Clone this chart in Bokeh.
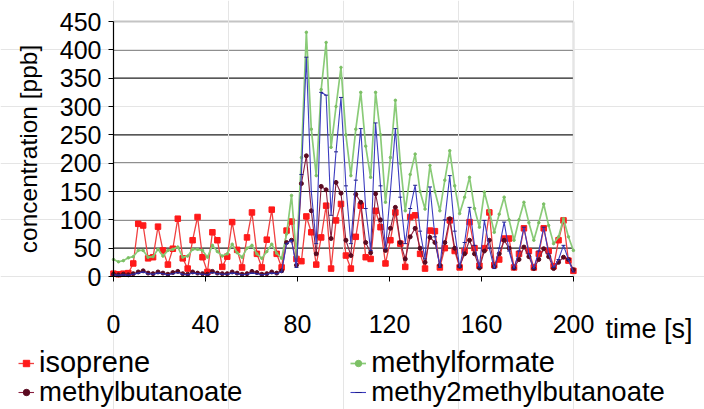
from bokeh.plotting import figure
from bokeh.models import ColumnDataSource, Range1d, FixedTicker, Legend, LegendItem, Label, LinearAxis
from bokeh.embed import file_html
from bokeh.resources import INLINE

time_s = [0.0, 2.15, 4.3, 6.45, 8.6, 10.75, 12.9, 15.05, 17.2, 19.35, 21.5, 23.65, 25.8, 27.95,
          30.1, 32.25, 34.4, 36.55, 38.7, 40.85, 43.0, 45.15, 47.3, 49.45, 51.6, 53.75, 55.9,
          58.05, 60.2, 62.35, 64.5, 66.65, 68.8, 70.95, 73.1, 75.25, 77.4, 79.55, 81.7, 83.85,
          86.0, 88.15, 90.3, 92.45, 94.6, 96.75, 98.9, 101.05, 103.2, 105.35, 107.5, 109.65,
          111.8, 113.95, 116.1, 118.25, 120.4, 122.55, 124.7, 126.85, 129.0, 131.15, 133.3,
          135.45, 137.6, 139.75, 141.9, 144.05, 146.2, 148.35, 150.5, 152.65, 154.8, 156.95,
          159.1, 161.25, 163.4, 165.55, 167.7, 169.85, 172.0, 174.15, 176.3, 178.45, 180.6,
          182.75, 184.9, 187.05, 189.2, 191.35, 193.5, 195.65, 197.8, 199.95]

isoprene = [5, 4, 5, 6, 23, 93, 90, 32, 34, 88, 46, 21, 49, 102, 32, 14, 64, 105, 34, 8,
            78, 64, 17, 35, 96, 47, 16, 69, 113, 40, 16, 65, 118, 40, 16,
            81, 97, 31, 27, 106, 78, 21, 69, 125, 14, 99, 128, 37, 14, 70, 125, 34, 31, 116, 87,
            23, 64, 113, 58, 17, 105, 108, 40, 14, 81, 80, 16, 50, 99, 45, 16, 45, 96, 50, 19,
            50, 113, 20, 30, 67, 67, 16, 40, 85, 45, 16, 40, 85, 45, 18, 64, 99, 28, 10]

methylformate = [30, 26, 28, 33, 35, 46, 46, 34, 35, 48, 36, 46, 48, 52, 34, 36, 48, 48, 46, 34,
                 55, 44, 36, 40, 57, 42, 34, 50, 55, 40, 32, 44, 57, 41, 32,
                 75, 143, 35, 210, 431, 260, 178, 330, 413, 228, 300, 369, 250, 178, 260, 325,
                 230, 175, 325, 250, 131, 210, 311, 200, 116, 180, 216, 150, 119, 196, 150, 116,
                 170, 222, 160, 111, 140, 175, 120, 87, 149, 115, 78, 110, 140, 100, 64, 100, 131,
                 95, 64, 95, 128, 90, 58, 70, 102, 70, 46]

methylbutanoate = [4, 3, 4, 3, 5, 8, 10, 6, 5, 8, 6, 4, 7, 9, 5, 4, 8, 6, 5, 4,
                   9, 6, 5, 5, 8, 6, 4, 5, 9, 7, 4, 5, 8, 6, 10,
                   60, 64, 20, 164, 213, 116, 40, 159, 153, 67, 166, 147, 64, 37, 145, 131, 60, 42,
                   146, 100, 46, 85, 122, 60, 31, 70, 85, 50, 25, 69, 60, 20, 60, 102, 50, 18, 40,
                   64, 40, 15, 45, 64, 18, 40, 64, 50, 15, 30, 52, 35, 14, 30, 49, 35, 14, 25, 34,
                   30, 12]

methy2methylbutanoate = [3, 2, 3, 2, 4, 6, 8, 5, 4, 6, 5, 3, 5, 7, 4, 3, 6, 5, 4, 3,
                         7, 5, 4, 4, 6, 5, 3, 4, 6, 5, 3, 4, 6, 5, 8,
                         58, 64, 16, 180, 387, 150, 58, 325, 320, 108, 220, 316, 160, 58, 170,
                         261, 120, 46, 271, 160, 49, 150, 261, 140, 58, 120, 161, 80, 31, 158, 70,
                         16, 100, 178, 80, 16, 60, 122, 55, 16, 99, 50, 14, 50, 96, 45, 14, 45, 87,
                         40, 14, 45, 87, 40, 16, 30, 55, 30, 8]

x_ticks = [0, 40, 80, 120, 160, 200]
y_ticks = [0, 50, 100, 150, 200, 250, 300, 350, 400, 450]

src = ColumnDataSource(dict(t=time_s, iso=isoprene, mf=methylformate,
                            mb=methylbutanoate, m2=methy2methylbutanoate))

FONT = "Liberation Sans"

# canvas geometry (pixels): plotting area 0..200 s spans 460 px starting 113 px from the left,
# 0..450 ppb spans 255 px with its top 21 px below the canvas top
W, H = 704, 409
PL, PW, PT, PH = 113, 460, 21, 255
X0, X1 = x_ticks[0], x_ticks[-1]
Y0, Y1 = y_ticks[0], y_ticks[-1]
sx = (X1 - X0) / PW
sy = (Y1 - Y0) / PH
x_range = Range1d(X0 - PL * sx, X1 + (W - PL - PW) * sx)
y_range = Range1d(Y0 - (H - PT - PH) * sy, Y1 + PT * sy)

p = figure(width=W, height=H, output_backend="svg", toolbar_location=None,
           x_range=x_range, y_range=y_range, x_axis_location=None, y_axis_location=None,
           min_border=0, min_border_left=0, min_border_right=0, min_border_top=0,
           min_border_bottom=0)
p.background_fill_color = "white"
p.border_fill_color = "white"
p.outline_line_color = None

# horizontal grid lines and the light plot-area border
gy = y_ticks[1:-1]
p.segment(x0=[X0] * len(gy), x1=[X1] * len(gy), y0=gy, y1=gy,
          line_color="#202020", line_width=1.2, level="underlay")
p.segment(x0=[X0], x1=[X1], y0=[Y1], y1=[Y1], line_color="#c4c4c4", line_width=1.8,
          level="underlay")
p.segment(x0=[X1], x1=[X1], y0=[Y0], y1=[Y1], line_color="#a0a0a0", line_width=1.4,
          level="underlay")

xaxis = LinearAxis(fixed_location=Y0, bounds=(X0, X1), ticker=FixedTicker(ticks=x_ticks))
yaxis = LinearAxis(fixed_location=X0, bounds=(Y0, Y1), ticker=FixedTicker(ticks=y_ticks))
for ax in (xaxis, yaxis):
    ax.axis_line_color = "black"
    ax.axis_line_width = 1.2
    ax.major_tick_line_color = "black"
    ax.major_tick_in = 0
    ax.major_tick_out = 5
    ax.minor_tick_line_color = None
    ax.major_label_text_font = FONT
    ax.major_label_text_font_size = "25px"
    ax.major_label_text_color = "black"
xaxis.major_label_standoff = 33
yaxis.major_label_standoff = 7
yaxis.axis_label = "concentration [ppb]"
yaxis.axis_label_text_font = FONT
yaxis.axis_label_text_font_size = "24.5px"
yaxis.axis_label_text_font_style = "normal"
yaxis.axis_label_text_color = "black"
yaxis.axis_label_standoff = 15
p.add_layout(xaxis, "below")
p.add_layout(yaxis, "left")

r_iso_l = p.line("t", "iso", source=src, line_color="#f04040", line_width=1.3)
r_iso_m = p.scatter("t", "iso", source=src, marker="square", size=5.5,
                    fill_color="#ff1a1a", line_color="#ff1a1a")
r_mf_l = p.line("t", "mf", source=src, line_color="#8acb78", line_width=1.7)
r_mf_m = p.scatter("t", "mf", source=src, marker="circle", size=2.5,
                   fill_color="#7cc065", line_color="#7cc065")
r_mb_l = p.line("t", "mb", source=src, line_color="#8a2040", line_width=1.1)
r_mb_m = p.scatter("t", "mb", source=src, marker="circle", size=4,
                   fill_color="#5a0a20", line_color="#5a0a20")
r_m2_l = p.line("t", "m2", source=src, line_color="#3c3cc0", line_width=1.1)
r_m2_m = p.scatter("t", "m2", source=src, marker="dash", size=4,
                   line_color="#20208a", line_width=1)

p.add_layout(Label(x=X1 + 32 * sx, y=Y0 - 37 * sy, text="time [s]", text_font=FONT,
                   text_font_size="27px", text_baseline="top", text_align="left",
                   text_color="black"))

leg_style = dict(orientation="horizontal", label_text_font=FONT, label_text_color="black",
                 glyph_width=16, glyph_height=16, label_height=16, label_standoff=5,
                 padding=0, margin=0, border_line_alpha=0, background_fill_alpha=0)
leg1 = Legend(items=[LegendItem(label="isoprene", renderers=[r_iso_l, r_iso_m]),
                     LegendItem(label="methylformate", renderers=[r_mf_l, r_mf_m])],
              location=(18, 30), spacing=200, label_text_font_size="29px", **leg_style)
leg2 = Legend(items=[LegendItem(label="methylbutanoate", renderers=[r_mb_l, r_mb_m]),
                     LegendItem(label="methy2methylbutanoate", renderers=[r_m2_l, r_m2_m])],
              location=(18, 1), spacing=108, label_text_font_size="27.5px", **leg_style)
p.add_layout(leg1)
p.add_layout(leg2)

open("out.html", "w").write(file_html(p, INLINE))
